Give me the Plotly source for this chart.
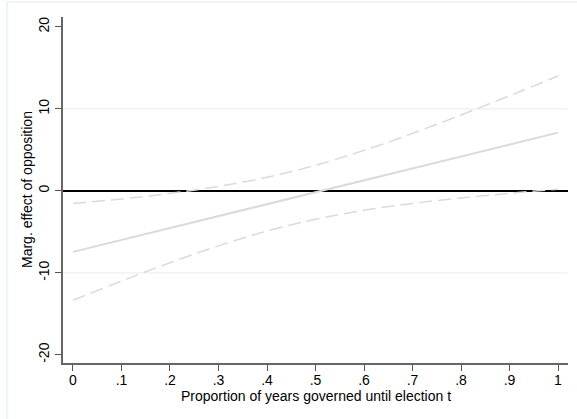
import plotly.graph_objects as go

# Data
x_vals = [0, 0.1, 0.2, 0.3, 0.4, 0.5, 0.6, 0.7, 0.8, 0.9, 1.0]
marg_effect = [-7.45, -6.0, -4.54, -3.09, -1.63, -0.18, 1.28, 2.74, 4.19, 5.65, 7.10]
upper_ci = [-1.55, -0.99, -0.31, 0.54, 1.65, 3.12, 4.93, 7.01, 9.25, 11.60, 14.00]
lower_ci = [-13.35, -11.01, -8.77, -6.71, -4.91, -3.47, -2.37, -1.54, -0.87, -0.31, 0.20]

x_tickvals = [0, 0.1, 0.2, 0.3, 0.4, 0.5, 0.6, 0.7, 0.8, 0.9, 1.0]
x_ticktext = ["0", ".1", ".2", ".3", ".4", ".5", ".6", ".7", ".8", ".9", "1"]
y_tickvals = [-20, -10, 0, 10, 20]
y_ticktext = ["-20", "-10", "0", "10", "20"]
grid_vals = [-10, 10]
x_title = "Proportion of years governed until election t"
y_title = "Marg. effect of opposition"

line_gray = "#dadada"
font = dict(family="Liberation Sans, Arial, sans-serif", size=14, color="#000000")

fig = go.Figure()
fig.add_trace(go.Scatter(x=x_vals, y=upper_ci, mode="lines", line_shape="spline",
                         line=dict(color=line_gray, width=1.5, dash="13px,6px"),
                         showlegend=False, hoverinfo="skip"))
fig.add_trace(go.Scatter(x=x_vals, y=lower_ci, mode="lines", line_shape="spline",
                         line=dict(color=line_gray, width=1.5, dash="13px,6px"),
                         showlegend=False, hoverinfo="skip"))
fig.add_trace(go.Scatter(x=x_vals, y=marg_effect, mode="lines",
                         line=dict(color=line_gray, width=2),
                         showlegend=False))

shapes = []
for g in grid_vals:
    shapes.append(dict(type="line", xref="paper", yref="y", x0=0, x1=1, y0=g, y1=g,
                       line=dict(color="#eaf0f2", width=1.2), layer="below"))
# outer graph-region frame (partially visible in the reference)
shapes.append(dict(type="rect", xref="paper", yref="paper",
                   x0=-0.111, x1=1.03, y0=-0.2, y1=1.0434,
                   line=dict(color="#e4ecf0", width=1.2), layer="below"))

annotations = [
    dict(text=x_title, xref="paper", yref="paper", x=0.5, y=0,
         xanchor="center", yanchor="middle", yshift=-33, showarrow=False, font=font),
    dict(text=y_title, xref="paper", yref="paper", x=0, y=0.5, textangle=-90,
         xanchor="center", yanchor="middle", xshift=-36, showarrow=False, font=font),
]

fig.update_layout(
    width=577, height=419,
    margin=dict(l=63, r=9, t=17, b=56, autoexpand=False),
    paper_bgcolor="white", plot_bgcolor="white",
    font=font,
    shapes=shapes,
    annotations=annotations,
    showlegend=False,
)
fig.update_xaxes(
    range=[-0.0206, 1.0206], automargin=False,
    tickvals=x_tickvals, ticktext=x_ticktext,
    ticks="outside", ticklen=6, tickwidth=1.2, tickcolor="#555555",
    showline=True, linecolor="#666666", linewidth=1.5,
    showgrid=False, zeroline=False,
    tickfont=font, ticklabelstandoff=-3,
)
fig.update_yaxes(
    range=[-21.0, 21.2], automargin=False,
    tickvals=y_tickvals, ticktext=y_ticktext, tickangle=-90,
    ticks="outside", ticklen=6, tickwidth=1.2, tickcolor="#555555",
    showline=True, linecolor="#666666", linewidth=1.5,
    showgrid=False,
    zeroline=True, zerolinecolor="#000000", zerolinewidth=1.5,
    tickfont=font, ticklabelstandoff=1,
)

fig.write_html("out.html", config={"displayModeBar": False},
               post_script="document.body.style.margin='0px';document.body.style.overflow='hidden';")
